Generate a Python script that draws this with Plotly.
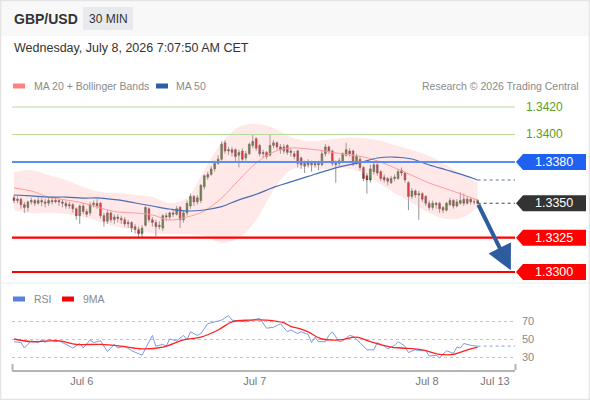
import plotly.graph_objects as go

BASE = 1.3300   # candle/indicator values below are pips above this price

# 30 MIN candles (pips above BASE), last one = Jul 8 07:00
opens = [54, 52, 53, 49, 47, 51, 52, 50, 52, 51, 50, 52, 51, 52, 51, 50, 48, 49, 46, 41,
         48, 44, 43, 49, 50, 50, 41, 37, 43, 38, 40, 39, 38, 35, 36, 33, 31, 28, 34, 46,
         38, 36, 33, 32, 41, 40, 43, 42, 47, 38, 43, 48, 55, 51, 52, 62, 69, 71, 75, 79,
         82, 94, 88, 89, 89, 85, 88, 83, 86, 92, 97, 92, 86, 87, 85, 92, 94, 91, 88, 92,
         88, 86, 88, 83, 77, 80, 78, 79, 78, 78, 86, 91, 88, 78, 79, 80, 85, 88, 88, 80,
         82, 76, 70, 67, 73, 78, 73, 69, 68, 65, 68, 68, 74, 72, 65, 55, 59, 56, 57, 55,
         50, 47, 50, 50, 47, 45, 49, 52, 48, 50, 53, 50, 53, 51, 52]
closes = [52, 53, 49, 47, 51, 52, 50, 52, 51, 50, 52, 51, 52, 51, 50, 48, 49, 46, 41, 48,
          44, 42, 49, 50, 48, 41, 37, 43, 38, 40, 39, 38, 35, 36, 32, 31, 28, 32, 47, 38,
          36, 33, 34, 41, 40, 43, 42, 46, 38, 43, 50, 55, 51, 54, 63, 70, 71, 75, 79, 82,
          93, 88, 89, 87, 84, 87, 82, 86, 93, 95, 90, 86, 87, 84, 92, 94, 91, 89, 91, 87,
          87, 84, 79, 78, 79, 78, 79, 78, 79, 86, 91, 88, 79, 79, 81, 86, 89, 86, 79, 84,
          76, 68, 67, 75, 78, 72, 68, 67, 66, 68, 69, 73, 72, 67, 55, 59, 56, 57, 53, 50,
          47, 50, 49, 46, 45, 50, 52, 48, 51, 52, 50, 53, 51, 51, 50]
highs = [56, 55, 54, 51, 52, 54, 53, 55, 54, 53, 54, 55, 54, 53, 53, 52, 51, 50, 47, 49,
         50, 46, 51, 52, 53, 51, 43, 45, 44, 42, 42, 41, 40, 38, 37, 35, 33, 34, 48, 47,
         40, 38, 37, 42, 43, 44, 45, 48, 48, 45, 52, 57, 56, 56, 64, 71, 73, 77, 81, 85,
         95, 96, 91, 91, 90, 89, 90, 88, 94, 100, 98, 93, 89, 88, 100, 96, 95, 93, 93, 93,
         90, 88, 89, 84, 81, 82, 81, 80, 81, 88, 93, 92, 89, 81, 83, 87, 94, 90, 89, 86,
         84, 77, 72, 78, 80, 79, 74, 71, 69, 70, 71, 75, 76, 73, 66, 61, 60, 59, 58, 56,
         52, 52, 51, 51, 48, 51, 54, 53, 53, 58, 57, 55, 54, 53, 53]
lows = [50, 50, 46, 43, 44, 49, 48, 49, 48, 47, 48, 49, 50, 48, 47, 46, 46, 43, 38, 35,
        42, 40, 41, 47, 46, 39, 33, 35, 36, 35, 36, 35, 33, 32, 29, 28, 25, 25, 33, 36,
        33, 26, 31, 30, 37, 38, 40, 41, 32, 36, 41, 46, 48, 49, 50, 60, 67, 70, 73, 78,
        81, 86, 85, 84, 80, 76, 80, 81, 85, 90, 88, 84, 83, 82, 84, 90, 89, 86, 86, 85,
        84, 82, 76, 75, 72, 76, 73, 76, 74, 77, 84, 86, 77, 65, 77, 79, 84, 84, 77, 78,
        74, 66, 57, 65, 71, 70, 66, 65, 63, 64, 66, 67, 70, 65, 45, 53, 54, 38, 51, 48,
        45, 45, 46, 43, 43, 44, 48, 46, 47, 49, 48, 49, 49, 49, 49]

# MA 20 + Bollinger Bands and MA 50, read every 5 candles (pips above BASE)
ind_idx = [0, 5, 10, 15, 20, 25, 30, 35, 40, 45, 50, 55, 60, 65, 70, 75, 80, 85, 90, 95,
           100, 105, 110, 115, 120, 125, 130, 134]
ma20 = [61.1, 58.9, 54.5, 52.4, 50.2, 46.5, 43.6, 42.9, 41.5, 37.8, 40.0, 44.4, 53.8, 66.9,
        79.3, 87.3, 90.2, 89.5, 88.0, 85.8, 84.2, 80.9, 75.8, 70.3, 64.7, 60.4, 56.0, 52.4]
bb_up = [72.7, 74.2, 70.5, 66.9, 61.8, 58.2, 57.5, 56.0, 54.5, 50.2, 53.8, 74.2, 93.8, 105.5,
         107.6, 104.7, 98.2, 95.3, 96.0, 97.5, 97.5, 96.0, 92.4, 88.7, 84.4, 77.8, 70.5, 64.7]
bb_lo = [45.1, 42.9, 42.9, 42.2, 40.0, 36.4, 32.7, 30.5, 28.4, 27.6, 27.6, 26.2, 21.1, 24.7,
         37.8, 59.6, 74.2, 76.4, 74.9, 75.6, 72.7, 65.5, 57.5, 50.2, 42.9, 38.5, 40.0, 47.3]
ma50 = [56.0, 55.3, 54.5, 54.5, 53.8, 53.8, 52.4, 50.2, 48.0, 45.8, 44.4, 45.1, 47.5, 52.5,
        56.5, 61.5, 65.5, 69.5, 73.5, 77.0, 79.5, 82.9, 83.6, 82.2, 77.8, 74.2, 70.5, 66.9]

# RSI and its 9MA
rsi_idx = [0, 2, 3, 5, 7, 8, 9, 10, 12, 13, 15, 17, 19, 20, 22, 23, 25, 27, 29, 30,
           32, 34, 37, 38, 40, 41, 43, 44, 45, 47, 48, 49, 50, 51, 53, 54, 56, 58, 60, 62,
           63, 65, 67, 69, 71, 73, 75, 77, 79, 80, 82, 83, 85, 86, 87, 88, 90, 91, 92, 94,
           95, 97, 98, 100, 102, 104, 105, 107, 108, 110, 111, 113, 114, 116, 117, 119, 120, 122, 123, 124,
           125, 127, 128, 129, 130, 132, 134]
rsi_val = [47, 46, 40, 48, 46, 49, 46, 50, 47, 48, 44, 40, 45, 40, 49, 46, 48, 36, 44, 40,
           42, 37, 32, 39, 54, 42, 44, 42, 50, 48, 51, 54, 49, 58, 54, 56, 67, 69, 71, 76,
           71, 70, 69, 71, 73, 62, 63, 67, 58, 60, 56, 58, 55, 46, 52, 47, 47, 54, 58, 47,
           48, 54, 53, 46, 38, 38, 46, 42, 39, 43, 47, 42, 35, 38, 37, 37, 31, 32, 29, 33,
           37, 34, 41, 40, 45, 43, 42]
ma9_idx = [0, 5, 13, 18, 25, 31, 37, 43, 49, 54, 59, 63, 68, 73, 78, 80, 83, 85, 89, 94,
           99, 103, 109, 112, 118, 123, 127, 131, 134]
ma9_val = [50, 47, 48, 44, 44, 42, 39, 41, 49, 52, 60, 69, 71, 71, 68, 64, 61, 58, 50, 49,
           52, 47, 41, 40, 38, 33, 33, 38, 41]

tick_idx = [19.6, 69.6, 119.4, 139]
tick_txt = ['Jul 6', 'Jul 7', 'Jul 8', 'Jul 13']

resistances = [1.3420, 1.3400]
pivot = 1.3380
last_price = 1.3350
supports = [1.3325, 1.3300]

# ---- page geometry (pixels of the 590x400 picture) ----
L, R, T, B = 12, 515, 95, 370
PRICE_TOP, PRICE_BOT = 95, 285
RSI_TOP = 300
ZERO_Y, PX_PER_PIP = 272, 1.375
XMIN, XMAX = -0.58, 144.8

def px(x):
    return (x - L) / (R - L)

def py(y):
    return (B - y) / (B - T)

def price_y(p):
    return py(ZERO_Y - (p - BASE) * 1e4 * PX_PER_PIP)

def to_price(v):
    return [BASE + x / 1e4 for x in v]

p_lo = BASE - (PRICE_BOT - ZERO_Y) / PX_PER_PIP / 1e4
p_hi = BASE + (ZERO_Y - PRICE_TOP) / PX_PER_PIP / 1e4
rsi_lo = 30 - (B - 357) / 0.9
rsi_hi = 70 + (321 - RSI_TOP) / 0.9

n = len(closes)
idx = list(range(n))

fig = go.Figure()

# bollinger band
fig.add_trace(go.Scatter(x=ind_idx, y=to_price(bb_up), mode='lines', line=dict(width=0, shape='spline'),
                         hoverinfo='skip', showlegend=False))
fig.add_trace(go.Scatter(x=ind_idx, y=to_price(bb_lo), mode='lines', line=dict(width=0, shape='spline'),
                         fill='tonexty', fillcolor='rgba(255,165,165,0.26)', hoverinfo='skip', showlegend=False))
fig.add_trace(go.Scatter(x=ind_idx, y=to_price(ma20), mode='lines',
                         line=dict(color='#ff9c9c', width=1, shape='spline'), showlegend=False))
fig.add_trace(go.Scatter(x=ind_idx, y=to_price(ma50), mode='lines',
                         line=dict(color='#4a6db4', width=1.2, shape='spline'), showlegend=False))
# MA50 and last price projected to the right edge
fig.add_trace(go.Scatter(x=[ind_idx[-1], XMAX], y=to_price([ma50[-1], ma50[-1]]), mode='lines',
                         line=dict(color='#5a6f9c', width=1.2, dash='dot'), showlegend=False))
fig.add_trace(go.Scatter(x=[n - 1, XMAX], y=[last_price, last_price], mode='lines',
                         line=dict(color='#444444', width=1.2, dash='dot'), showlegend=False))

fig.add_trace(go.Candlestick(
    x=idx, open=to_price(opens), high=to_price(highs), low=to_price(lows), close=to_price(closes),
    increasing=dict(line=dict(color='#4a4a4a', width=0.6), fillcolor='#2a8a22'),
    decreasing=dict(line=dict(color='#4a4a4a', width=0.6), fillcolor='#e80e0e'),
    whiskerwidth=0, showlegend=False))

# RSI panel
fig.add_trace(go.Scatter(x=rsi_idx, y=rsi_val, yaxis='y2', mode='lines',
                         line=dict(color='#7d9be6', width=1), showlegend=False))
fig.add_trace(go.Scatter(x=[rsi_idx[-1], XMAX], y=[rsi_val[-1], rsi_val[-1]], yaxis='y2', mode='lines',
                         line=dict(color='#9db2ee', width=1.2, dash='dot'), showlegend=False))
fig.add_trace(go.Scatter(x=ma9_idx, y=ma9_val, yaxis='y2', mode='lines',
                         line=dict(color='#ff2222', width=1.3, shape='spline'), showlegend=False))

shapes = []
ann = []

# level lines
for lvl in resistances:
    shapes.append(dict(type='line', xref='x', yref='y', x0=XMIN, x1=XMAX, y0=lvl, y1=lvl,
                       line=dict(color='#b6d99c', width=1)))
    ann.append(dict(xref='paper', yref='paper', x=px(524), y=price_y(lvl), text=f'{lvl:.4f}',
                    xanchor='left', yanchor='middle', showarrow=False,
                    font=dict(size=12, color='#5a9e22')))
shapes.append(dict(type='line', xref='x', yref='y', x0=XMIN, x1=XMAX, y0=pivot, y1=pivot,
                   line=dict(color='#5b8ef2', width=2)))
for lvl in supports:
    shapes.append(dict(type='line', xref='x', yref='y', x0=XMIN, x1=XMAX, y0=lvl, y1=lvl,
                       line=dict(color='#ff0000', width=2.2)))

# tag boxes on the right
def tag(lvl, color):
    yc = price_y(lvl)
    h = 8 / (B - T)
    path = (f'M {px(516)},{yc} L {px(523)},{yc + h} L {px(586)},{yc + h} '
            f'L {px(586)},{yc - h} L {px(523)},{yc - h} Z')
    shapes.append(dict(type='path', xref='paper', yref='paper', path=path,
                       fillcolor=color, line=dict(width=0)))
    ann.append(dict(xref='paper', yref='paper', x=px(554), y=yc, text=f'{lvl:.4f}',
                    xanchor='center', yanchor='middle', showarrow=False,
                    font=dict(size=12.5, color='white')))

tag(pivot, '#1f62f2')
tag(last_price, '#333333')
for lvl in supports:
    tag(lvl, '#ff0000')

# forecast arrow
ann.append(dict(xref='x', yref='y', x=143.6, y=supports[1] + 0.00012, axref='x', ayref='y',
                ax=n - 1, ay=last_price, text='', showarrow=True, arrowhead=2, arrowsize=1.25,
                arrowwidth=4, arrowcolor='#2d5c9f'))

# header
shapes.append(dict(type='rect', xref='paper', yref='paper', x0=px(0), x1=px(590), y0=py(36), y1=py(0),
                   fillcolor='#f8f8f8', line=dict(width=0), layer='below'))
shapes.append(dict(type='rect', xref='paper', yref='paper', x0=px(83), x1=px(133), y0=py(30), y1=py(7),
                   fillcolor='#e8e9ec', line=dict(width=0)))
ann.append(dict(xref='paper', yref='paper', x=px(12), y=py(19), text='<b>GBP/USD</b>', xanchor='left',
                yanchor='middle', showarrow=False, font=dict(size=14, color='#333333')))
ann.append(dict(xref='paper', yref='paper', x=px(108), y=py(19), text='30 MIN', xanchor='center',
                yanchor='middle', showarrow=False, font=dict(size=12, color='#333333')))
ann.append(dict(xref='paper', yref='paper', x=px(12), y=py(48), text='Wednesday, July 8, 2026 7:07:50 AM CET',
                xanchor='left', yanchor='middle', showarrow=False, font=dict(size=12.5, color='#333333')))

# legends
def swatch(x0, y, color):
    shapes.append(dict(type='rect', xref='paper', yref='paper', x0=px(x0), x1=px(x0 + 12),
                       y0=py(y + 2.5), y1=py(y - 2.5), fillcolor=color, line=dict(width=0)))

def label(x, y, text, anchor='left'):
    ann.append(dict(xref='paper', yref='paper', x=px(x), y=py(y), text=text, xanchor=anchor,
                    yanchor='middle', showarrow=False, font=dict(size=10.5, color='#8a8a8a')))

swatch(13, 86, '#ff8080')
label(32, 86, 'MA 20 + Bollinger Bands')
swatch(156, 86, '#2f5ea8')
label(174, 86, 'MA 50')
label(581, 86, 'Research © 2026 Trading Central', 'right')
swatch(13, 299, '#5b7fe0')
label(32, 299, 'RSI')
swatch(62, 299, '#ff0000')
label(81, 299, '9MA')

# panel separator, axis end ticks, outer frame
shapes.append(dict(type='line', xref='paper', yref='paper', x0=px(0), x1=px(590), y0=py(283), y1=py(283),
                   line=dict(color='#ececec', width=1)))
for xe in (12.5, 515.5):
    shapes.append(dict(type='line', xref='paper', yref='paper', x0=px(xe), x1=px(xe), y0=py(370), y1=py(364),
                       line=dict(color='#b5b5b5', width=2)))
shapes.append(dict(type='rect', xref='paper', yref='paper', x0=px(0.5), x1=px(589.5), y0=py(399.5), y1=py(0.5),
                   line=dict(color='#e4e4e4', width=1.5)))

fig.update_layout(
    width=590, height=400,
    margin=dict(l=L, r=590 - R, t=T, b=400 - B),
    paper_bgcolor='white', plot_bgcolor='white',
    font=dict(family='Liberation Sans, Arial, sans-serif', color='#777777'),
    showlegend=False,
    xaxis=dict(range=[XMIN, XMAX], anchor='y2', rangeslider=dict(visible=False),
               showgrid=False, zeroline=False, showline=True, linecolor='#b5b5b5', linewidth=2,
               tickvals=tick_idx, ticktext=tick_txt, ticks='', tickfont=dict(size=11, color='#777777')),
    yaxis=dict(domain=[py(PRICE_BOT), 1], range=[p_lo, p_hi], showgrid=False, zeroline=False,
               showticklabels=False, fixedrange=True),
    yaxis2=dict(domain=[0, py(RSI_TOP)], range=[rsi_lo, rsi_hi], side='right', tickvals=[30, 50, 70],
                showgrid=True, gridcolor='#c4c4c4', griddash='dot', gridwidth=1, zeroline=False,
                tickfont=dict(size=11, color='#888888'), ticklabelstandoff=6),
    shapes=shapes, annotations=ann,
)

# page body margin would push the 590x400 figure off the window
fig.write_html("out.html", config={'displayModeBar': False},
               post_script="document.body.style.margin='0';")
